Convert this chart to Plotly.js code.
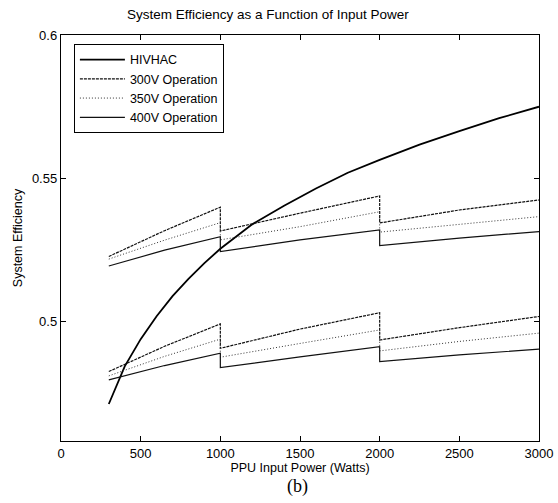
<!DOCTYPE html>
<html>
<head>
<meta charset="utf-8">
<script src="https://cdn.plot.ly/plotly-3.0.1.min.js"></script>
<style>
  html, body { margin: 0; padding: 0; background: #fff; }
  #chart { width: 558px; height: 503px; }
</style>
</head>
<body>
<div id="chart"></div>
<script>
// HIVHAC thruster system efficiency vs PPU input power
const hivhacPower = [300, 350, 400, 500, 600, 700, 800, 900, 1000, 1200, 1400, 1600, 1800, 2000, 2250, 2500, 2750, 3000];
const hivhacEff   = [0.4714, 0.478, 0.4845, 0.494, 0.502, 0.509, 0.515, 0.5205, 0.5255, 0.534, 0.5405, 0.5465, 0.552, 0.5565, 0.5618, 0.5665, 0.571, 0.575];

// PPU operating points: three power stages, each with a step at 1000 W and 2000 W
const stagePower = [300, 650, 1000, 1000, 1500, 2000, 2000, 2500, 3000];

// upper band
const upper300V = [0.5228, 0.5318, 0.5400, 0.5317, 0.5379, 0.5439, 0.5345, 0.5390, 0.5425];
const upper350V = [0.5219, 0.5285, 0.5346, 0.5286, 0.5332, 0.5384, 0.5313, 0.5340, 0.5367];
const upper400V = [0.5195, 0.5250, 0.5297, 0.5245, 0.5286, 0.5321, 0.5266, 0.5292, 0.5315];

// lower band
const lower300V = [0.4827, 0.4915, 0.4993, 0.4908, 0.4975, 0.5032, 0.4937, 0.4980, 0.5019];
const lower350V = [0.4812, 0.4880, 0.4940, 0.4877, 0.4925, 0.4972, 0.4899, 0.4932, 0.4961];
const lower400V = [0.4798, 0.4848, 0.4891, 0.4841, 0.4878, 0.4914, 0.4862, 0.4885, 0.4905];

const xTicks = [0, 500, 1000, 1500, 2000, 2500, 3000];
const yTicks = [0.5, 0.55, 0.6];
const yTickText = ['0.5', '0.55', '0.6'];

const styles = {
  v300: { color: '#111', width: 1.2, dash: '3px,1px' },
  v350: { color: '#333', width: 1.0, dash: '1px,2px' },
  v400: { color: '#111', width: 1.2, dash: 'solid' }
};

const traces = [
  { x: hivhacPower, y: hivhacEff, name: 'HIVHAC', mode: 'lines',
    line: { color: '#000', width: 1.8 }, legendgroup: 'h' },
  { x: stagePower, y: upper300V, name: '300V Operation', mode: 'lines', line: styles.v300, legendgroup: 'a' },
  { x: stagePower, y: upper350V, name: '350V Operation', mode: 'lines', line: styles.v350, legendgroup: 'b' },
  { x: stagePower, y: upper400V, name: '400V Operation', mode: 'lines', line: styles.v400, legendgroup: 'c' },
  { x: stagePower, y: lower300V, name: '300V Operation', mode: 'lines', line: styles.v300, legendgroup: 'a', showlegend: false },
  { x: stagePower, y: lower350V, name: '350V Operation', mode: 'lines', line: styles.v350, legendgroup: 'b', showlegend: false },
  { x: stagePower, y: lower400V, name: '400V Operation', mode: 'lines', line: styles.v400, legendgroup: 'c', showlegend: false }
];

const axisCommon = {
  showline: true, linecolor: '#000', linewidth: 1.2, mirror: 'allticks',
  ticks: 'inside', ticklen: 5, tickcolor: '#000', showgrid: false, zeroline: false,
  tickfont: { family: 'Liberation Sans, Arial, sans-serif', size: 13, color: '#000' }
};

const layout = {
  width: 558, height: 503,
  paper_bgcolor: '#fff', plot_bgcolor: '#fff',
  margin: { l: 61, r: 19, t: 35, b: 62 },
  font: { family: 'Liberation Sans, Arial, sans-serif', color: '#000' },
  title: { text: 'System Efficiency as a Function of Input Power',
           font: { size: 13.5, color: '#000' }, x: 0.48, xanchor: 'center', y: 0.972, yanchor: 'middle' },
  xaxis: Object.assign({}, axisCommon, {
    range: [0, 3000], tickvals: xTicks, ticktext: xTicks.map(String),
    title: { text: 'PPU Input Power (Watts)', font: { size: 12.5 }, standoff: 1 }
  }),
  yaxis: Object.assign({}, axisCommon, {
    range: [0.4585, 0.6], tickvals: yTicks, ticktext: yTickText,
    title: { text: 'System Efficiency', font: { size: 12.5 }, standoff: 6 }
  }),
  showlegend: true,
  legend: {
    x: 0.027, y: 0.978, xanchor: 'left', yanchor: 'top',
    bgcolor: '#fff', bordercolor: '#000', borderwidth: 1,
    font: { size: 12.5, color: '#000' }, itemwidth: 45, tracegroupgap: 0
  },
  annotations: [
    { text: '(b)', xref: 'paper', yref: 'paper', x: 0.495, y: -0.111, yanchor: 'middle',
      showarrow: false, font: { family: 'Liberation Serif, Times New Roman, serif', size: 18, color: '#000' } }
  ]
};

Plotly.newPlot('chart', traces, layout, { displayModeBar: false, staticPlot: true });
</script>
</body>
</html>
